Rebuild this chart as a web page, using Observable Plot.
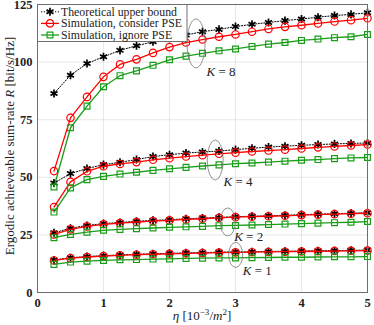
<!DOCTYPE html>
<html><head><meta charset="utf-8">
<script src="https://cdn.jsdelivr.net/npm/d3@7"></script>
<script src="https://cdn.jsdelivr.net/npm/@observablehq/plot@0.6"></script>
<style>
html,body{margin:0;padding:0;background:#fff;}
</style>
</head><body><div id="chart"></div>
<script>
const eta = [0.25,0.5,0.75,1,1.25,1.5,1.75,2,2.25,2.5,2.75,3,3.25,3.5,3.75,4,4.25,4.5,4.75,5];

const boundK8  = [86.4,94.3,99.4,102.3,105.1,107.1,108.8,110.4,111.8,113.2,114.2,115.4,116.4,117.2,118.0,118.7,119.5,120.2,120.7,121.4];
const pseK8    = [52.7,75.8,84.9,93.6,99.0,101.2,104.0,106.5,108.5,109.8,111.0,112.0,113.2,114.4,115.3,116.0,116.8,117.6,118.2,119.0];
const ignK8    = [45.8,71.5,80.9,89.3,94.1,96.2,98.6,101.0,102.6,103.8,104.9,105.7,106.8,107.8,108.5,109.4,110.0,110.6,111.0,112.0];

const boundK4  = [47.5,51.6,53.8,55.5,56.5,57.7,59.0,59.8,60.5,61.0,61.4,62.0,62.6,63.1,63.5,63.9,64.2,64.5,64.7,64.9];
const pseK4    = [37.1,48.0,52.6,54.8,55.8,56.6,57.6,58.3,59.0,59.6,60.2,60.7,61.2,61.6,62.0,62.5,63.0,63.4,63.8,64.2];
const ignK4    = [34.9,45.4,49.0,50.4,51.4,52.2,53.0,53.7,54.3,54.9,55.4,55.9,56.2,56.6,57.0,57.4,57.7,58.1,58.4,58.6];

const boundK2  = [25.9,27.9,29.1,29.9,30.4,30.9,31.3,31.6,32.0,32.3,32.6,32.9,33.1,33.3,33.5,33.8,34.0,34.2,34.4,34.6];
const pseK2    = [25.2,27.4,28.7,29.6,30.1,30.6,31.0,31.3,31.7,32.0,32.4,32.7,32.9,33.1,33.3,33.6,33.8,34.0,34.2,34.4];
const ignK2    = [23.8,25.2,26.2,27.0,27.4,27.7,28.0,28.3,28.5,28.7,29.0,29.1,29.3,29.5,29.7,29.9,30.1,30.3,30.5,30.8];

const boundK1  = [14.1,15.1,15.6,16.0,16.3,16.6,16.8,17.0,17.2,17.3,17.5,17.6,17.7,17.8,17.9,18.0,18.1,18.2,18.3,18.4];
const pseK1    = [13.9,14.9,15.4,15.8,16.1,16.4,16.6,16.8,17.0,17.1,17.3,17.4,17.5,17.6,17.7,17.8,17.9,18.0,18.1,18.2];
const ignK1    = [12.2,13.2,13.6,13.9,14.2,14.3,14.5,14.6,14.8,14.9,15.0,15.0,15.1,15.2,15.3,15.3,15.4,15.5,15.5,15.6];

const xTicks = [0,1,2,3,4,5];
const yTicks = [0,25,50,75,100,125];

const legendLabels = ["Theoretical upper bound","Simulation, consider PSE","Simulation, ignore PSE"];

// annotation ellipses (data-unit centres, pixel radii) and labels
const annoK    = ["8","4","2","1"];
const annoEta  = [2.41,2.70,2.89,3.01];
const annoR    = [107.9,57.3,30.4,16.1];
const annoRx   = [9,8,7.5,7];
const annoRy   = [24.5,20,14,12.5];
const labelEta = [2.56,2.82,2.98,3.11];
const labelR   = [95.9,48.2,24.3,9.5];

const BLACK = "#000000", RED = "#ff0000", GREEN = "#1a9e1a";
const FONT = "'Liberation Serif', 'DejaVu Serif', serif";
const AXIS = "#6e6e6e";

function rows(ys, K){ return eta.map((e,i)=>({eta:e, R:ys[i], K})); }
const bound = [...rows(boundK8,8),...rows(boundK4,4),...rows(boundK2,2),...rows(boundK1,1)];
const pse   = [...rows(pseK8,8),...rows(pseK4,4),...rows(pseK2,2),...rows(pseK1,1)];
const ign   = [...rows(ignK8,8),...rows(ignK4,4),...rows(ignK2,2),...rows(ignK1,1)];
const labels = annoK.map((k,i)=>({eta:labelEta[i], R:labelR[i], k}));

const plot = Plot.plot({
  width: 374, height: 325,
  marginLeft: 37, marginRight: 7, marginTop: 4, marginBottom: 33,
  style: {fontFamily: FONT, fontSize: "12px", background: "#fff"},
  x: {domain: [0,5], label: null},
  y: {domain: [0,125], label: null},
  marks: [
    Plot.gridX(xTicks, {stroke: "#000", strokeOpacity: 0.09}),
    Plot.gridY(yTicks, {stroke: "#000", strokeOpacity: 0.09}),
    Plot.axisX({ticks: xTicks, tickSize: 0, tickPadding: 6, tickFormat: d3.format("d"), fontWeight: "bold", fontSize: 12.5, fill: "#222"}),
    Plot.axisY({ticks: yTicks, tickSize: 0, tickPadding: 5, tickFormat: d3.format("d"), fontWeight: "bold", fontSize: 12.5, fill: "#222"}),
    Plot.line(bound, {x: "eta", y: "R", z: "K", stroke: BLACK, strokeWidth: 1, strokeDasharray: "1.2,1.6"}),
    Plot.dot(bound, {x: "eta", y: "R", symbol: "asterisk", r: 3.8, stroke: BLACK, strokeWidth: 1.7}),
    Plot.line(pse, {x: "eta", y: "R", z: "K", stroke: RED, strokeWidth: 1.3}),
    Plot.dot(pse, {x: "eta", y: "R", symbol: "circle", r: 3.7, stroke: RED, strokeWidth: 1.2, fill: "none"}),
    Plot.line(ign, {x: "eta", y: "R", z: "K", stroke: GREEN, strokeWidth: 1.3}),
    Plot.dot(ign, {x: "eta", y: "R", symbol: "square", r: 3.3, stroke: GREEN, strokeWidth: 1.2, fill: "none"}),
    Plot.text(labels, {x: "eta", y: "R", text: d => "K = " + d.k, textAnchor: "start", fontSize: 13, fill: "#222"}),
    Plot.frame({stroke: AXIS, strokeWidth: 1})
  ]
});

document.getElementById("chart").appendChild(plot);
const svg = d3.select(plot);
const sx = plot.scale("x"), sy = plot.scale("y");

// italic K in labels
svg.selectAll("text").filter(function(){ return /^K = \d$/.test(this.textContent); }).each(function(){
  const t = this.textContent; const sel = d3.select(this); sel.text("");
  sel.append("tspan").attr("font-style","italic").text("K");
  sel.append("tspan").text(t.slice(1));
});

// ellipses
const ell = svg.append("g");
annoK.forEach((k,i)=>{
  ell.append("ellipse").attr("cx", sx.apply(annoEta[i])).attr("cy", sy.apply(annoR[i]))
    .attr("rx", annoRx[i]).attr("ry", annoRy[i])
    .attr("fill","none").attr("stroke","#777").attr("stroke-width",0.8);
});

// axis labels
const xl = svg.append("text").attr("x", 202).attr("y", 320).attr("text-anchor","middle")
  .attr("font-family", FONT).attr("font-size", 13).attr("fill","#222");
xl.append("tspan").attr("font-style","italic").text("η");
xl.append("tspan").text(" [10");
xl.append("tspan").attr("dy",-5).attr("font-size",9).text("−3");
xl.append("tspan").attr("dy",5).text("/");
xl.append("tspan").attr("font-style","italic").text("m");
xl.append("tspan").attr("dy",-5).attr("font-size",9).text("2");
xl.append("tspan").attr("dy",5).text("]");

const yl = svg.append("text").attr("transform","translate(14,146) rotate(-90)").attr("text-anchor","middle")
  .attr("font-family", FONT).attr("font-size", 13).attr("fill","#222");
yl.append("tspan").text("Ergodic achieveable sum-rate ");
yl.append("tspan").attr("font-style","italic").text("R");
yl.append("tspan").text(" [bit/s/Hz]");

// legend
const lg = svg.append("g").attr("font-family", FONT).attr("font-size", 11.8).attr("text-anchor","start");
lg.append("rect").attr("x", 37.5).attr("y", 4.5).attr("width", 149.5).attr("height", 37)
  .attr("fill","#ffffff").attr("stroke",AXIS).attr("stroke-width",1);
const cols = [BLACK, RED, GREEN];
const syms = [d3.symbolAsterisk, d3.symbolCircle, d3.symbolSquare];
const dash = ["1.2,1.6", null, null];
const rr = [3.8, 3.7, 3.3];
legendLabels.forEach((lab,i)=>{
  const y = 11.8 + i*11.6;
  const ln = lg.append("line").attr("x1",41).attr("x2",59).attr("y1",y).attr("y2",y)
    .attr("stroke", cols[i]).attr("stroke-width", i===0?1:1.3);
  if (dash[i]) ln.attr("stroke-dasharray", dash[i]);
  lg.append("path").attr("transform",`translate(50,${y})`)
    .attr("d", d3.symbol(syms[i], Math.PI*rr[i]*rr[i])())
    .attr("fill","none").attr("stroke",cols[i]).attr("stroke-width", i===0?1.7:1.2);
  lg.append("text").attr("x",61).attr("y",y).attr("dy","0.33em").attr("fill","#222").attr("text-anchor","start").text(lab);
});
</script>
</body></html>
